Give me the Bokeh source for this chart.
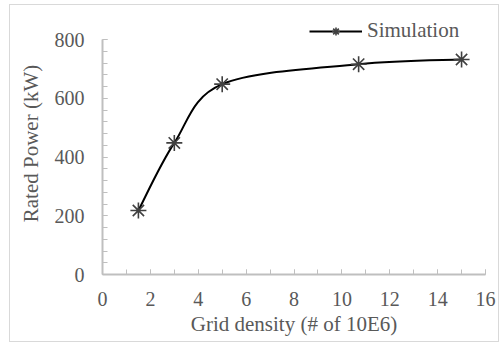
from bokeh.plotting import figure
from bokeh.embed import file_html
from bokeh.resources import INLINE
from bokeh.models import ColumnDataSource, Legend, LegendItem, FixedTicker, Range1d
import numpy as np

# data
grid_density = [1.5, 3.0, 5.0, 10.7, 15.0]
rated_power = [218, 448, 648, 716, 732]
x_ticks = [0, 2, 4, 6, 8, 10, 12, 14, 16]
y_ticks = [0, 200, 400, 600, 800]
series_name = "Simulation"

FONT = "Liberation Serif"
TXT = "#595959"
AX = "#bfbfbf"

# frame extends above 800 so the legend (which sits above the axis top) is not clipped
p = figure(width=490, height=338, output_backend="svg", toolbar_location=None,
           x_range=Range1d(0, 16), y_range=Range1d(0, 892),
           min_border_left=92, min_border_right=15, min_border_top=7, min_border_bottom=69)
p.styles = {"border": "1px solid #d9d9d9", "margin-left": "9px", "margin-top": "4px"}
p.outline_line_color = None
p.xgrid.grid_line_color = None
p.ygrid.grid_line_color = None
p.background_fill_color = "white"
p.border_fill_color = "white"

# smooth curve (Catmull-Rom -> cubic Bezier, like Excel smoothing)
xs = np.array(grid_density, dtype=float)
ys = np.array(rated_power, dtype=float)
xp = np.concatenate([[xs[0]], xs, [xs[-1]]])
yp = np.concatenate([[ys[0]], ys, [ys[-1]]])
n = len(xs)
bz = dict(x0=[], y0=[], x1=[], y1=[], cx0=[], cy0=[], cx1=[], cy1=[])
for i in range(n - 1):
    P0x, P0y = xp[i], yp[i]
    P1x, P1y = xp[i + 1], yp[i + 1]
    P2x, P2y = xp[i + 2], yp[i + 2]
    P3x, P3y = xp[i + 3], yp[i + 3]
    bz["x0"].append(P1x); bz["y0"].append(P1y)
    bz["x1"].append(P2x); bz["y1"].append(P2y)
    bz["cx0"].append(P1x + (P2x - P0x) / 6); bz["cy0"].append(P1y + (P2y - P0y) / 6)
    bz["cx1"].append(P2x - (P3x - P1x) / 6); bz["cy1"].append(P2y - (P3y - P1y) / 6)
bez = p.bezier(x0="x0", y0="y0", x1="x1", y1="y1", cx0="cx0", cy0="cy0", cx1="cx1", cy1="cy1",
               source=ColumnDataSource(bz), line_color="black", line_width=2)

pts = p.scatter(grid_density, rated_power, marker="asterisk", size=16,
                line_color="#404040", line_width=1.6)

legend = Legend(items=[LegendItem(label=series_name, renderers=[bez, pts])],
                location=(207, 231), orientation="vertical")
legend.glyph_width = 53
legend.glyph_height = 20
legend.label_standoff = 5
legend.padding = 0
legend.margin = 0
legend.border_line_color = None
legend.background_fill_alpha = 0
legend.label_text_font = FONT
legend.label_text_font_size = "21px"
legend.label_text_color = TXT
p.add_layout(legend)

for ax in (p.xaxis[0], p.yaxis[0]):
    ax.axis_line_color = AX
    ax.axis_line_width = 2
    ax.major_tick_line_color = AX
    ax.minor_tick_line_color = AX
    ax.major_tick_line_width = 1
    ax.minor_tick_line_width = 1
    ax.major_tick_in = 5
    ax.major_tick_out = 0
    ax.minor_tick_in = 5
    ax.minor_tick_out = 0
    ax.major_label_text_font = FONT
    ax.major_label_text_font_size = "20px"
    ax.major_label_text_color = TXT
    ax.axis_label_text_font = FONT
    ax.axis_label_text_font_size = "21px"
    ax.axis_label_text_color = TXT
    ax.axis_label_text_font_style = "normal"

p.yaxis.bounds = (0, 800)
p.xaxis.ticker = FixedTicker(ticks=x_ticks, minor_ticks=list(range(0, 17)))
p.yaxis.ticker = FixedTicker(ticks=y_ticks, minor_ticks=list(range(0, 801, 40)))
p.xaxis.axis_label = "Grid density (# of 10E6)"
p.yaxis.axis_label = "Rated Power (kW)"
p.xaxis.major_label_standoff = 17
p.yaxis.major_label_standoff = 18
p.xaxis.axis_label_standoff = 3
p.yaxis.axis_label_standoff = 9

open("out.html", "w").write(file_html(p, INLINE))
